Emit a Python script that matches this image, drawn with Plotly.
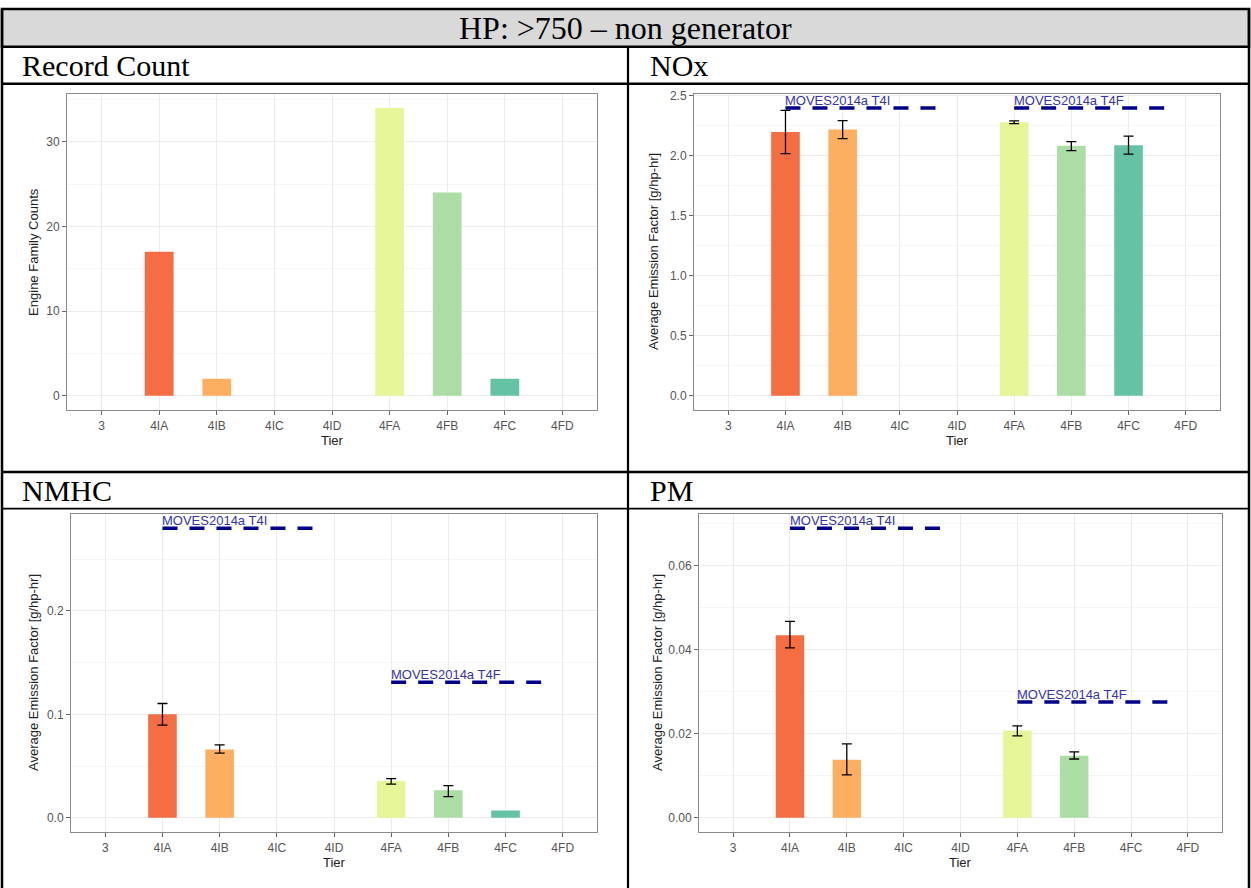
import plotly.graph_objects as go

W, H = 1251, 888

TIERS = ["3", "4IA", "4IB", "4IC", "4ID", "4FA", "4FB", "4FC", "4FD"]
SPECTRAL = ["#D53E4F", "#F46D43", "#FDAE61", "#FEE08B", "#FFFFBF",
            "#E6F598", "#ABDDA4", "#66C2A5", "#3288BD"]

RECORD_COUNT = [None, 17, 2, None, None, 34, 24, 2, None]

NOX_MEAN = [None, 2.20, 2.22, None, None, 2.28, 2.085, 2.09, None]
NOX_LO = [None, 2.02, 2.145, None, None, 2.27, 2.045, 2.015, None]
NOX_HI = [None, 2.38, 2.295, None, None, 2.293, 2.12, 2.165, None]

NMHC_MEAN = [None, 0.100, 0.066, None, None, 0.0355, 0.0265, 0.0071, None]
NMHC_LO = [None, 0.0895, 0.0625, None, None, 0.0325, 0.0205, None, None]
NMHC_HI = [None, 0.1105, 0.0705, None, None, 0.0378, 0.031, None, None]

PM_MEAN = [None, 0.0435, 0.0138, None, None, 0.0208, 0.0148, None, None]
PM_LO = [None, 0.0405, 0.0102, None, None, 0.0195, 0.0140, None, None]
PM_HI = [None, 0.0468, 0.0176, None, None, 0.0219, 0.0157, None, None]

MOVES_LABELS = ["MOVES2014a T4I", "MOVES2014a T4F"]
MOVES_X = [[1, 3.8], [5, 7.8]]
NOX_MOVES = [2.4, 2.4]
NMHC_MOVES = [0.28, 0.131]
PM_MOVES = [0.069, 0.0276]

HEADER = "HP: >750 \u2013 non generator"
CELL_TITLES = ["Record Count", "NOx", "NMHC", "PM"]
Y_TITLES = ["Engine Family Counts", "Average Emission Factor [g/hp-hr]",
            "Average Emission Factor [g/hp-hr]", "Average Emission Factor [g/hp-hr]"]


def px_x(x):
    return x / W


def px_y(y):
    return 1 - y / H


fig = go.Figure()

# panel boxes in pixels: (left, top, right, bottom)
PANELS = [(67, 90, 597, 408), (694, 90, 1220, 408),
          (71, 512, 597, 832), (699, 512, 1222, 832)]
YTITLE_X = [34, 654, 34, 658]
TICK_FMT = [None, ".1f", ".1f", ".2f"]
DTICK = [10, 0.5, 0.1, 0.02]

datasets = [
    (RECORD_COUNT, None, None, None),
    (NOX_MEAN, NOX_LO, NOX_HI, NOX_MOVES),
    (NMHC_MEAN, NMHC_LO, NMHC_HI, NMHC_MOVES),
    (PM_MEAN, PM_LO, PM_HI, PM_MOVES),
]

annotations = []
shapes = []

for i, (vals, lo, hi, moves) in enumerate(datasets):
    n = i + 1
    xa = "x" if n == 1 else f"x{n}"
    ya = "y" if n == 1 else f"y{n}"
    idx = [k for k, v in enumerate(vals) if v is not None]
    ys = [vals[k] for k in idx]
    cols = [SPECTRAL[k] for k in idx]
    ymax = max(ys)
    fig.add_trace(go.Bar(x=idx, y=ys, marker=dict(color=cols, line=dict(width=0)),
                         width=0.5, xaxis=xa, yaxis=ya, showlegend=False))
    if lo is not None:
        eidx = [k for k in idx if hi[k] is not None]
        fig.add_trace(go.Scatter(
            x=eidx, y=[vals[k] for k in eidx], mode="markers",
            marker=dict(size=0.1, color="rgba(0,0,0,0)"),
            error_y=dict(type="data", symmetric=False,
                         array=[hi[k] - vals[k] for k in eidx],
                         arrayminus=[vals[k] - lo[k] for k in eidx],
                         color="black", thickness=1.3, width=5),
            xaxis=xa, yaxis=ya, showlegend=False, hoverinfo="skip"))
        ymax = max([h for h in hi if h is not None] + list(moves))
    if moves is not None:
        for lab, xr, mv in zip(MOVES_LABELS, MOVES_X, moves):
            fig.add_trace(go.Scatter(x=xr, y=[mv, mv], mode="lines",
                                     line=dict(color="#00008B", width=3.5, dash="15px,12px"),
                                     xaxis=xa, yaxis=ya, showlegend=False))
            annotations.append(dict(x=xr[0], y=mv, xref=xa, yref=ya, text=lab,
                                    showarrow=False, xanchor="left", yanchor="bottom",
                                    yshift=-2, xshift=-2,
                                    font=dict(family="Liberation Sans", size=13, color="#3535a8")))
    pad = ymax * 0.05
    l, t, r, b = PANELS[i]
    ax_common = dict(showline=True, mirror=True, linecolor="#8a8a8a", linewidth=1,
                     ticks="outside", ticklen=4, tickcolor="#666666",
                     tickfont=dict(family="Liberation Sans", size=12, color="#555555"),
                     showgrid=True, gridcolor="#ececec", gridwidth=1, zeroline=False)
    fig.update_layout(**{
        ("xaxis" if n == 1 else f"xaxis{n}"): dict(
            domain=[px_x(l), px_x(r)], anchor=ya, range=[-0.6, 8.6],
            tickmode="array", tickvals=list(range(len(TIERS))), ticktext=TIERS,
            **ax_common),
        ("yaxis" if n == 1 else f"yaxis{n}"): dict(
            domain=[px_y(b), px_y(t)], anchor=xa, range=[-pad, ymax + pad],
            dtick=DTICK[i], tick0=0, tickformat=TICK_FMT[i],
            minor=dict(showgrid=True, gridcolor="#f5f5f5", gridwidth=0.6, dtick=DTICK[i] / 2),
            **ax_common),
    })
    annotations.append(dict(x=px_x((l + r) / 2), y=px_y(b + 30), xref="paper", yref="paper",
                            text="Tier", showarrow=False, xanchor="center", yanchor="middle",
                            font=dict(family="Liberation Sans", size=13, color="#222222")))
    annotations.append(dict(x=px_x(YTITLE_X[i]), y=px_y((t + b) / 2), xref="paper", yref="paper",
                            text=Y_TITLES[i], showarrow=False, textangle=-90,
                            xanchor="center", yanchor="middle",
                            font=dict(family="Liberation Sans", size=13, color="#222222")))

# table structure
LINE = dict(color="black", width=2.5)
shapes.append(dict(type="rect", xref="paper", yref="paper", x0=px_x(2), x1=px_x(1249),
                   y0=px_y(43), y1=px_y(5), fillcolor="#D9D9D9", line=LINE, layer="below"))
for (x0, y0, x1, y1, wd) in [
    (2, 5, 2, 888, 2.5), (1249, 5, 1249, 888, 2.5),
    (2, 80, 1249, 80, 2.5), (2, 470, 1249, 470, 2.5), (2, 507, 1249, 507, 1.8),
    (628, 43, 628, 888, 2.2),
]:
    shapes.append(dict(type="line", xref="paper", yref="paper", x0=px_x(x0), x1=px_x(x1),
                       y0=px_y(y0), y1=px_y(y1), line=dict(color="black", width=wd)))

annotations.append(dict(x=0.5, y=px_y(24), xref="paper", yref="paper", text=HEADER,
                        showarrow=False, xanchor="center", yanchor="middle",
                        font=dict(family="Liberation Serif", size=32, color="black")))
for txt, x, y in [(CELL_TITLES[0], 20, 62), (CELL_TITLES[1], 648, 62),
                  (CELL_TITLES[2], 20, 489), (CELL_TITLES[3], 648, 489)]:
    annotations.append(dict(x=px_x(x), y=px_y(y), xref="paper", yref="paper", text=txt,
                            showarrow=False, xanchor="left", yanchor="middle",
                            font=dict(family="Liberation Serif", size=30, color="black")))

fig.update_layout(width=W, height=H, margin=dict(l=0, r=0, t=0, b=0),
                  paper_bgcolor="white", plot_bgcolor="white",
                  shapes=shapes, annotations=annotations)

fig.write_html("out.html", config={"displayModeBar": False},
               post_script="document.body.style.margin='0';document.body.style.overflow='hidden';")
